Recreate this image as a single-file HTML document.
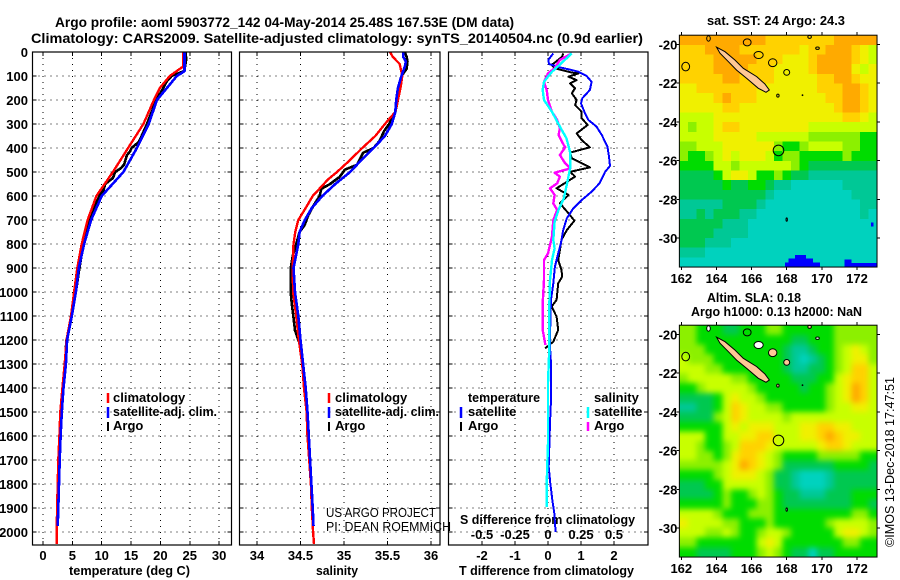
<!DOCTYPE html>
<html>
<head>
<meta charset="utf-8">
<title>Argo profile</title>
<style>
html,body{margin:0;padding:0;background:#fff;}
svg{display:block;}
text{font-family:"Liberation Sans",sans-serif;fill:#000;font-weight:bold;font-size:13px;}
.thin{font-weight:normal;font-size:12.5px;}
.ttl{font-size:14px;}
</style>
</head>
<body>
<svg id="chart" width="900" height="580" viewBox="0 0 900 580" xmlns="http://www.w3.org/2000/svg">
<defs>
<filter id="sla-blur" x="-10%" y="-10%" width="120%" height="120%" color-interpolation-filters="sRGB"><feGaussianBlur stdDeviation="3"/></filter>
<clipPath id="sla-clip"><rect id="sla-clip-rect" x="679" y="325" width="198" height="232"/></clipPath>
</defs>
<rect x="0" y="0" width="900" height="580" fill="#fff"/>
<text class="ttl" x="55" y="27" textLength="459" lengthAdjust="spacingAndGlyphs">Argo profile: aoml 5903772_142 04-May-2014 25.48S 167.53E (DM data)</text>
<text class="ttl" x="31" y="43" textLength="612" lengthAdjust="spacingAndGlyphs">Climatology: CARS2009. Satellite-adjusted climatology: synTS_20140504.nc (0.9d earlier)</text>
<text x="69" y="575" textLength="121" lengthAdjust="spacingAndGlyphs">temperature (deg C)</text>
<text x="316" y="575" textLength="42" lengthAdjust="spacingAndGlyphs">salinity</text>
<text x="459" y="575" textLength="175" lengthAdjust="spacingAndGlyphs">T difference from climatology</text>
<text x="460" y="524" textLength="175" lengthAdjust="spacingAndGlyphs">S difference from climatology</text>
<g id="layer-maps"></g>
<g id="layer-grid"></g>
<g id="layer-series"></g>
<g id="layer-frame"></g>
<g>
<line x1="108" x2="108" y1="393" y2="403" stroke="#f00" stroke-width="2.5"/>
<line x1="108" x2="108" y1="407" y2="418" stroke="#00f" stroke-width="2.5"/>
<line x1="108" x2="108" y1="422" y2="431" stroke="#000" stroke-width="2"/>
<text x="113" y="402">climatology</text>
<text x="113" y="416" textLength="104" lengthAdjust="spacingAndGlyphs">satellite-adj. clim.</text>
<text x="113" y="430">Argo</text>
</g>
<g>
<line x1="329" x2="329" y1="393" y2="403" stroke="#f00" stroke-width="2.5"/>
<line x1="329" x2="329" y1="407" y2="418" stroke="#00f" stroke-width="2.5"/>
<line x1="329" x2="329" y1="422" y2="431" stroke="#000" stroke-width="2"/>
<text x="335" y="402">climatology</text>
<text x="335" y="416" textLength="104" lengthAdjust="spacingAndGlyphs">satellite-adj. clim.</text>
<text x="335" y="430">Argo</text>
</g>
<g>
<text x="468" y="402" textLength="72" lengthAdjust="spacingAndGlyphs">temperature</text>
<line x1="461" x2="461" y1="407" y2="418" stroke="#00f" stroke-width="2.5"/>
<line x1="461" x2="461" y1="422" y2="431" stroke="#000" stroke-width="2"/>
<text x="468" y="416">satellite</text>
<text x="468" y="430">Argo</text>
<text x="594" y="402">salinity</text>
<line x1="588" x2="588" y1="407" y2="418" stroke="#0ff" stroke-width="2.5"/>
<line x1="588" x2="588" y1="422" y2="431" stroke="#f0f" stroke-width="2.5"/>
<text x="594" y="416">satellite</text>
<text x="594" y="430">Argo</text>
</g>
<text class="thin" x="326" y="517" textLength="110" lengthAdjust="spacingAndGlyphs">US ARGO PROJECT</text>
<text class="thin" x="326" y="531" textLength="125" lengthAdjust="spacingAndGlyphs">PI: DEAN ROEMMICH</text>
<text x="707" y="25" textLength="138" lengthAdjust="spacingAndGlyphs">sat. SST: 24 Argo: 24.3</text>
<text x="707" y="302" textLength="94" lengthAdjust="spacingAndGlyphs">Altim. SLA: 0.18</text>
<text x="691" y="316" textLength="171" lengthAdjust="spacingAndGlyphs">Argo h1000: 0.13 h2000: NaN</text>
<text class="thin" transform="translate(894,547) rotate(-90)" x="0" y="0" textLength="170" lengthAdjust="spacingAndGlyphs">©IMOS 13-Dec-2018 17:47:51</text>
</svg>
<script>
// ---- profile data (depth in m) ----
const depthTicks = [0,100,200,300,400,500,600,700,800,900,1000,1100,1200,1300,1400,1500,1600,1700,1800,1900,2000];
const tempTicks = [0,5,10,15,20,25,30];
const salTicks = [34,34.5,35,35.5,36];
const salTickLabels = ['34','34.5','35','35.5','36'];
const tDiffTicks = [-2,-1,0,1,2];
const sDiffTicks = [-0.5,-0.25,0,0.25,0.5];
const sDiffTickLabels = ['-0.5','-0.25','0','0.25','0.5'];

const tempClimDepth = [0,60,100,150,200,300,400,500,600,700,800,900,1000,1100,1200,1300,1400,1500,1600,1700,1800,1900,2000,2050];
const tempClim = [23.9,23.9,21.6,19.9,18.9,17.1,14.5,11.9,9.1,7.6,6.6,5.85,5.3,4.77,4.0,3.7,3.3,2.95,2.8,2.6,2.5,2.4,2.33,2.35];
const tempSatDepth = [0,80,100,150,200,300,400,500,600,700,800,900,1000,1100,1200,1300,1400,1500,1600,1700,1800,1900,1975];
const tempSat = [24.1,24.1,22.8,21.1,19.4,18,16,13.7,10,8.2,7,6.1,5.6,4.9,4.1,3.9,3.5,3.2,3.0,2.84,2.73,2.6,2.5];
const tempArgoDepth = [0,30,60,80,100,125,150,200,250,300,350,375,400,415,430,470,485,500,525,550,575,600,650,700,800,900,1000,1100,1200,1230];
const tempArgo = [24.3,24.4,24.2,24,21.9,21,20.5,19.3,18.5,17.7,16.8,16.3,15.1,14.8,14.3,13.8,13.2,12.3,11.9,10.6,10.3,9.6,8.7,8,6.9,6.2,5.6,4.9,4.0,3.9];

const salClimDepth = [0,20,50,100,150,200,250,300,350,400,450,500,530,600,650,700,750,800,900,1000,1100,1200,1300,1400,1500,1600,1700,1800,1900,2000,2050];
const salClim = [35.53,35.56,35.64,35.67,35.65,35.62,35.59,35.47,35.36,35.21,35.07,34.92,34.82,34.64,34.56,34.475,34.44,34.42,34.41,34.415,34.45,34.48,34.52,34.54,34.57,34.58,34.6,34.62,34.63,34.645,34.655];
const salSatDepth = [0,20,40,60,100,150,200,250,300,350,400,450,500,550,600,650,700,750,800,900,1000,1100,1200,1300,1400,1500,1600,1700,1800,1900,1975];
const salSat = [35.68,35.68,35.71,35.7,35.66,35.62,35.6,35.59,35.55,35.47,35.34,35.2,35.07,34.9,34.75,34.63,34.55,34.49,34.475,34.42,34.437,34.475,34.5,34.53,34.56,34.58,34.595,34.61,34.625,34.64,34.65];
const salArgoDepth = [0,20,40,70,100,150,200,250,300,330,370,400,420,470,490,520,550,570,600,640,680,720,750,800,850,900,1000,1050,1100,1160,1200,1220];
const salArgo = [35.7,35.72,35.73,35.72,35.66,35.64,35.62,35.59,35.52,35.46,35.41,35.34,35.22,35.15,35.01,34.95,34.84,34.74,34.72,34.65,34.59,34.55,34.49,34.45,34.41,34.387,34.387,34.4,34.417,34.437,34.475,34.5];

const tDiffSatDepth = [6,33,50,64,72,82,100,124,158,193,214,256,283,311,346,394,436,475,499,547,582,617,651,693,742,797,839,894,964,1033,1131,1228,1297,1450,1546,1729,1797,1866,1922,2000];
const tDiffSat = [0.16,0.01,0.03,0.36,0.62,0.92,1.17,1.32,1.27,1.04,1.0,1.12,1.22,1.47,1.63,1.8,1.85,1.88,1.73,1.56,1.32,1.02,0.77,0.57,0.46,0.39,0.31,0.21,0.16,0.09,0.07,0.06,0.09,0.09,0.06,0.02,0.07,0.13,0.19,0.23];
const tDiffArgoDepth = [6,19,33,54,68,86,89,103,117,131,151,172,200,221,249,276,304,339,367,397,419,443,481,499,519,568,596,631,672,703,742,783,825,867,908,936,964,1033,1061,1103,1158,1207,1235];
const tDiffArgo = [0.46,0.43,0.31,0.11,0.21,0.72,0.92,0.62,0.87,0.67,0.82,0.72,0.87,0.82,1.02,1.02,1.2,0.87,1.02,1.27,0.67,0.72,1.27,0.67,0.82,0.26,0.62,0.36,0.62,0.8,0.57,0.41,0.36,0.31,0.41,0.43,0.31,0.26,0.11,0.26,0.31,0.16,-0.09];
const sDiffArgoDepth = [6,33,68,89,124,158,200,249,283,318,346,388,397,429,464,485,503,519,547,568,596,631,658,700,769,839,867,950,1047,1158,1221];
const sDiffArgo = [0.18,0.09,0.05,0,-0.03,-0.01,0,0.03,0.07,0.09,0.08,0.12,0.13,0.09,0.13,0.17,0.05,0.09,0.07,0.015,0.05,0.04,0.07,0.04,0.03,0,-0.03,-0.03,-0.04,-0.04,-0.02];
const sDiffSatDepth = [6,47,82,124,158,200,249,311,360,422,478,533,610,658,707,783,818,867,950,1061,1235,1380,1533,1630,1797,1896];
const sDiffSat = [0.18,0.10,0.03,-0.03,-0.04,-0.03,0.03,0.09,0.14,0.17,0.17,0.15,0.12,0.08,0.05,0.04,0.05,0.03,0.015,0.01,0.01,0,0,0,-0.01,-0.01];

// ---- map data: colour level per block, north to south ----
const mapLevelColors = ['#0000ff','#00d2be','#00c896','#00c850','#00dc00','#8cf000','#c8ff00','#f0f000','#ffd200','#ffaa00'];
const sstGrid = [
'99999999998888888899999',
'88899998888888788999876',
'88889999988877789999876',
'88889999888777789999767',
'88888998888777778899877',
'77888888877777778889987',
'77778988877777777889987',
'77777887777777777789987',
'66667777777777777778876',
'65667887777777766666666',
'66667777766666655555544',
'55666777777544566665544',
'54456767776455444445444',
'44446656666665433333333',
'33334677644543322222222',
'33333433443221111112222',
'33333333332111111111222',
'22222333321111111111122',
'22323332211111111111121',
'33333222111111111111111',
'33332222111111111111111',
'33322211111111111111111',
'22211111111111111111111',
'11111111111111111111111'
];
const slaGrid = [
'55444334445544444455555',
'55444444444443344455555',
'55544444444432234456765',
'65554444444432123456775',
'66655444444432233456886',
'56666655444443334467886',
'44566666544444344567986',
'33334676654444444567986',
'22334687665544444566776',
'33335687666656666666666',
'44444676777666778877666',
'66644667788666778987766',
'66544568887666667887666',
'66554578876544445555544',
'55555679876533333344443',
'44445677765332111233333',
'33344666665332111233333',
'33334544565433222333444',
'44444544455433333333443',
'66665444555444444444554',
'76666554445444444566665',
'66655654456654444467765',
'55444444467644444445544',
'44333344456543313344444'
];
// extra SST patches: lon start, lon end, lat top, lat bottom, level
const sstPatchLonStart = [168.47,168.1,167.9,171.3,171.4,172.8];
const sstPatchLonEnd = [169.1,169.5,169.9,171.7,173.14,172.95];
const sstPatchLatTop = [-30.88,-31.05,-31.27,-31.1,-31.3,-29.2];
const sstPatchLatBottom = [-31.5,-31.5,-31.5,-31.5,-31.5,-29.4];
const sstPatchLevel = [0,0,0,0,0,0];

const mainIslandLon = [164.01,164.49,165.05,165.53,166.29,166.76,167.01,166.82,166.38,165.72,165.15,164.68,164.2];
const mainIslandLat = [-20.15,-20.38,-20.81,-21.24,-21.67,-22.05,-22.36,-22.48,-22.27,-21.76,-21.33,-20.9,-20.46];
const smallIslandLon = [165.75,162.25,166.4,167.2,168,167.5,169.75,169.3,163.55,168,168.9];
const smallIslandLat = [-19.9,-21.15,-20.55,-20.95,-21.45,-22.65,-20.2,-19.62,-19.7,-29.05,-22.63];
const smallIslandRx = [0.22,0.22,0.26,0.24,0.17,0.07,0.1,0.1,0.1,0.04,0.02];
const smallIslandRy = [0.18,0.22,0.18,0.2,0.15,0.08,0.06,0.08,0.14,0.09,0.02];
const slaIslandFill = ['none','none','#fff','#ffc896','#ffc896','#ffc896','#fff','#ffc896','#fff','#fff','#000'];
const sstIslandFill = ['none','none','none','none','none','none','none','none','none','none','#000'];
const argoLon = 167.53;
const argoLat = -25.48;
const mapLonTicks = [162,164,166,168,170,172];
const mapLatTicks = [-20,-22,-24,-26,-28,-30];

// ---- axis functions ----
const SVGNS = 'http://www.w3.org/2000/svg';
const P = {top:52, bottom:545};
function yDepth(d){ return 52 + d*0.24; }
function xTemp(t){ return 43 + t*5.87; }
function xSal(s){ return 257 + (s-34)*87; }
function xTDiff(t){ return 548 + t*33; }
function xSDiff(s){ return 548 + s*132; }
function mapX(lon){ return 681.3 + (lon-162)*17.57; }
function mapYTop(lat){ return 44.3 + (-20-lat)*19.37; }
function mapYBot(lat){ return 334.3 + (-20-lat)*19.37; }

const gridLayer = document.getElementById('layer-grid');
const seriesLayer = document.getElementById('layer-series');
const frameLayer = document.getElementById('layer-frame');
const mapLayer = document.getElementById('layer-maps');

function svgLine(parent,name,x1,y1,x2,y2,color,width,dash){
  const el = document.createElementNS(SVGNS,'line');
  
  
  el.setAttribute('x1',x1); el.setAttribute('y1',y1);
  el.setAttribute('x2',x2); el.setAttribute('y2',y2);
  el.setAttribute('stroke',color);
  el.setAttribute('stroke-width',width);
  el.setAttribute('shape-rendering','crispEdges');
  if(dash) el.setAttribute('stroke-dasharray',dash);
  parent.appendChild(el);
}
function svgText(parent,name,str,x,y,anchor){
  const el = document.createElementNS(SVGNS,'text');
  
  
  el.setAttribute('x',x); el.setAttribute('y',y);
  el.setAttribute('text-anchor',anchor);
  el.textContent = str;
  parent.appendChild(el);
}
function svgSeries(name,xs,depths,xFn,color,width){
  const el = document.createElementNS(SVGNS,'polyline');
  
  
  el.setAttribute('points', xs.map(function(v,i){ return xFn(v).toFixed(1)+','+yDepth(depths[i]).toFixed(1); }).join(' '));
  el.setAttribute('fill','none');
  el.setAttribute('stroke',color);
  el.setAttribute('stroke-width',width);
  el.setAttribute('stroke-linejoin','round');
  el.setAttribute('shape-rendering','crispEdges');
  seriesLayer.appendChild(el);
}
function profilePanel(prefix,left,right,ticks,labels,xFn){
  depthTicks.forEach(function(d){
    if(d>0) svgLine(gridLayer,prefix+'-depth-gridline',left,yDepth(d),right,yDepth(d),'#000',1,'1 5');
    svgLine(frameLayer,prefix+'-depth-tick',left,yDepth(d),left+4,yDepth(d),'#000',1);
    svgLine(frameLayer,prefix+'-depth-tick',right-4,yDepth(d),right,yDepth(d),'#000',1);
  });
  ticks.forEach(function(t,i){
    svgLine(gridLayer,prefix+'-x-gridline',xFn(t),P.top,xFn(t),P.bottom,'#000',1,'1 5');
    svgLine(frameLayer,prefix+'-x-tick',xFn(t),P.top,xFn(t),P.top+4,'#000',1);
    svgLine(frameLayer,prefix+'-x-tick',xFn(t),P.bottom-4,xFn(t),P.bottom,'#000',1);
    svgText(frameLayer,prefix+'-x-tick-label',labels[i],xFn(t),560,'middle');
  });
  const fr = document.createElementNS(SVGNS,'rect');
  
  
  fr.setAttribute('x',left); fr.setAttribute('y',P.top);
  fr.setAttribute('width',right-left); fr.setAttribute('height',P.bottom-P.top);
  fr.setAttribute('fill','none'); fr.setAttribute('stroke','#000'); fr.setAttribute('stroke-width','1.2');
  frameLayer.appendChild(fr);
}
profilePanel('temperature-panel',32.5,231.5,tempTicks,tempTicks.map(String),xTemp);
profilePanel('salinity-panel',239.5,440,salTicks,salTickLabels,xSal);
profilePanel('difference-panel',448.5,648,tDiffTicks,tDiffTicks.map(String),xTDiff);
depthTicks.forEach(function(d){
  svgText(frameLayer,'depth-tick-label',String(d),28,yDepth(d)+5,'end');
});
sDiffTicks.forEach(function(s,i){
  svgText(frameLayer,'s-difference-tick-label',sDiffTickLabels[i],xSDiff(s),539,'middle');
});

svgSeries('temperature-argo-line',tempArgo,tempArgoDepth,xTemp,'#000',2.6);
svgSeries('temperature-climatology-line',tempClim,tempClimDepth,xTemp,'#f00',2.4);
svgSeries('temperature-satellite-line',tempSat,tempSatDepth,xTemp,'#00f',2.6);
svgSeries('salinity-argo-line',salArgo,salArgoDepth,xSal,'#000',2.6);
svgSeries('salinity-climatology-line',salClim,salClimDepth,xSal,'#f00',2.4);
svgSeries('salinity-satellite-line',salSat,salSatDepth,xSal,'#00f',2.6);
svgSeries('t-difference-argo-line',tDiffArgo,tDiffArgoDepth,xTDiff,'#000',2);
svgSeries('t-difference-satellite-line',tDiffSat,tDiffSatDepth,xTDiff,'#00f',2);
svgSeries('s-difference-argo-line',sDiffArgo,sDiffArgoDepth,xSDiff,'#f0f',2.4);
svgSeries('s-difference-satellite-line',sDiffSat,sDiffSatDepth,xSDiff,'#0ff',2.4);

// ---- maps ----
const LON_MIN = 161.89, LON_MAX = 173.14, LAT_MAX = -19.53, LAT_MIN = -31.5;
function drawMap(prefix,grid,yFn,patches,islandFills,smooth){
  const rows = grid.length, cols = grid[0].length;
  const dLon = (LON_MAX-LON_MIN)/cols, dLat = (LAT_MAX-LAT_MIN)/rows;
  const top = yFn(LAT_MAX), bot = yFn(LAT_MIN), left = mapX(LON_MIN), right = mapX(LON_MAX);
  let cellParent = mapLayer;
  if(smooth){
    const clipRect = document.getElementById('sla-clip-rect');
    clipRect.setAttribute('x',left); clipRect.setAttribute('y',top);
    clipRect.setAttribute('width',right-left); clipRect.setAttribute('height',bot-top);
    const clipG = document.createElementNS(SVGNS,'g');
    
    
    clipG.setAttribute('clip-path','url(#sla-clip)');
    mapLayer.appendChild(clipG);
    cellParent = document.createElementNS(SVGNS,'g');
    
    
    cellParent.setAttribute('filter','url(#sla-blur)');
    clipG.appendChild(cellParent);
  }
  const pad = smooth ? 14 : 0;
  grid.forEach(function(row,r){
    for(let c=0;c<cols;c++){
      const level = Number(row[c]);
      let x0 = mapX(LON_MIN+c*dLon), x1 = mapX(LON_MIN+(c+1)*dLon);
      let y0 = yFn(LAT_MAX-r*dLat), y1 = yFn(LAT_MAX-(r+1)*dLat);
      if(c===0) x0 -= pad;
      if(c===cols-1) x1 += pad;
      if(r===0) y0 -= pad;
      if(r===rows-1) y1 += pad;
      const cell = document.createElementNS(SVGNS,'rect');
      
      
      cell.setAttribute('x',x0.toFixed(2)); cell.setAttribute('y',y0.toFixed(2));
      cell.setAttribute('width',(x1-x0+0.5).toFixed(2)); cell.setAttribute('height',(y1-y0+0.5).toFixed(2));
      cell.setAttribute('fill',mapLevelColors[level]);
      cell.setAttribute('shape-rendering','crispEdges');
      cellParent.appendChild(cell);
    }
  });
  if(patches){
    sstPatchLevel.forEach(function(level,i){
      const p = document.createElementNS(SVGNS,'rect');
      
      
      p.setAttribute('x',mapX(sstPatchLonStart[i]).toFixed(2));
      p.setAttribute('y',yFn(sstPatchLatTop[i]).toFixed(2));
      p.setAttribute('width',(mapX(sstPatchLonEnd[i])-mapX(sstPatchLonStart[i])).toFixed(2));
      p.setAttribute('height',(yFn(sstPatchLatBottom[i])-yFn(sstPatchLatTop[i])).toFixed(2));
      p.setAttribute('fill',mapLevelColors[level]);
      p.setAttribute('shape-rendering','crispEdges');
      mapLayer.appendChild(p);
    });
  }
  const island = document.createElementNS(SVGNS,'polygon');
  
  
  island.setAttribute('points', mainIslandLon.map(function(lon,i){ return mapX(lon).toFixed(1)+','+yFn(mainIslandLat[i]).toFixed(1); }).join(' '));
  island.setAttribute('fill','#ffc896');
  island.setAttribute('stroke','#000');
  island.setAttribute('stroke-width','1');
  mapLayer.appendChild(island);
  smallIslandLon.forEach(function(lon,i){
    const e = document.createElementNS(SVGNS,'ellipse');
    
    
    e.setAttribute('cx',mapX(lon).toFixed(1)); e.setAttribute('cy',yFn(smallIslandLat[i]).toFixed(1));
    e.setAttribute('rx',(smallIslandRx[i]*17.57).toFixed(1)); e.setAttribute('ry',(smallIslandRy[i]*19.37).toFixed(1));
    e.setAttribute('fill',islandFills[i]);
    e.setAttribute('stroke','#000');
    e.setAttribute('stroke-width','1');
    mapLayer.appendChild(e);
  });
  const circle = document.createElementNS(SVGNS,'circle');
  
  
  circle.setAttribute('cx',mapX(argoLon).toFixed(1));
  circle.setAttribute('cy',yFn(argoLat).toFixed(1));
  circle.setAttribute('r','5.3');
  circle.setAttribute('fill','none');
  circle.setAttribute('stroke','#000');
  circle.setAttribute('stroke-width','1');
  mapLayer.appendChild(circle);
  const fr = document.createElementNS(SVGNS,'rect');
  
  
  fr.setAttribute('x',left); fr.setAttribute('y',top);
  fr.setAttribute('width',right-left); fr.setAttribute('height',bot-top);
  fr.setAttribute('fill','none'); fr.setAttribute('stroke','#000'); fr.setAttribute('stroke-width','1');
  mapLayer.appendChild(fr);
  mapLonTicks.forEach(function(lon){
    svgLine(mapLayer,prefix+'-lon-tick',mapX(lon),top-3,mapX(lon),top,'#000',1);
    svgLine(mapLayer,prefix+'-lon-tick',mapX(lon),bot,mapX(lon),bot+3,'#000',1);
    svgText(mapLayer,prefix+'-lon-label',String(lon),mapX(lon),bot+16,'middle');
  });
  mapLatTicks.forEach(function(lat){
    svgLine(mapLayer,prefix+'-lat-tick',left-3,yFn(lat),left,yFn(lat),'#000',1);
    svgLine(mapLayer,prefix+'-lat-tick',right,yFn(lat),right+3,yFn(lat),'#000',1);
    svgText(mapLayer,prefix+'-lat-label',String(lat),left-2,yFn(lat)+5,'end');
  });
}
drawMap('sst-map',sstGrid,mapYTop,true,sstIslandFill,false);
drawMap('sla-map',slaGrid,mapYBot,false,slaIslandFill,true);
</script>
</body>
</html>
